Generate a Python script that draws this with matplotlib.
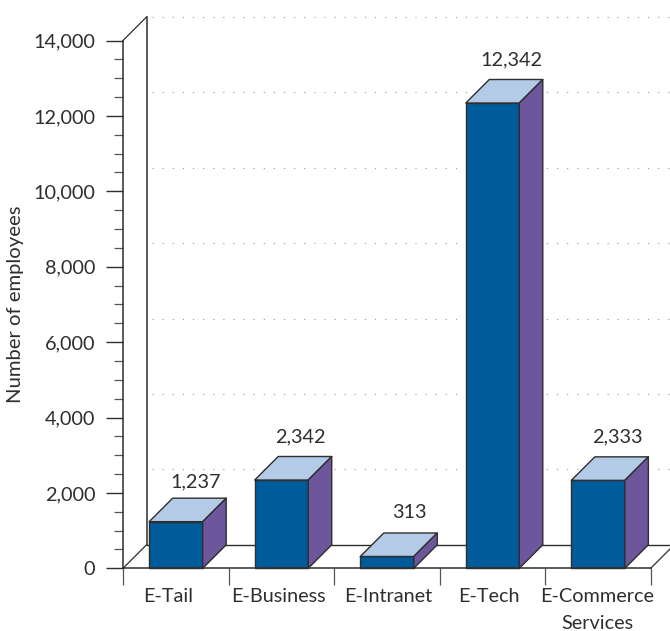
import matplotlib
matplotlib.use("Agg")
import matplotlib.pyplot as plt
from matplotlib.patches import Polygon
from matplotlib.ticker import MultipleLocator, FuncFormatter

categories = ["E-Tail", "E-Business", "E-Intranet", "E-Tech", "E-Commerce\nServices"]
employees = [1237, 2342, 313, 12342, 2333]
label_text = ["1,237", "2,342", "313", "12,342", "2,333"]

W, H = 670, 631
plt.rcParams["font.family"] = ["Lato", "DejaVu Sans"]
INK = "#2e2e2e"
FRONT, TOP, SIDE = "#005b9a", "#b3cbe6", "#6e569c"
GRID = "#a0a0a0"
FS = 14.3

fig = plt.figure(figsize=(W / 100, H / 100), dpi=100)
left, right, top, bottom = 123, 650.7, 40.5, 568.3
ax = fig.add_axes([left / W, 1 - bottom / H, (right - left) / W, (bottom - top) / H])
ax.set_xlim(0, 5)
ax.set_ylim(0, 14000)
ax.patch.set_visible(False)

# Oblique depth of the pseudo-3D box, in data units
dx = 23.5 / ((right - left) / 5)
dy = 23.5 / ((bottom - top) / 14000)
bar_w = 0.507
bar_pad = 0.248

# Back wall, floor and dotted gridlines
x_end = 5.4
for v in range(0, 14001, 2000):
    if v:
        ax.plot([dx + 0.05, x_end], [v + dy, v + dy], color=GRID, lw=0.8,
                ls=(0, (1.1, 8)), clip_on=False, zorder=1)
ax.plot([dx, dx], [dy, 14000 + dy], color=INK, lw=1.1, clip_on=False, zorder=2)
ax.plot([0, dx], [14000, 14000 + dy], color=INK, lw=0.9, clip_on=False, zorder=2)
ax.plot([0, dx], [0, dy], color=INK, lw=0.9, clip_on=False, zorder=2)
ax.plot([dx, x_end], [dy, dy], color=INK, lw=1.0, clip_on=False, zorder=2)
ax.plot([5, 5 + dx], [0, dy], color=INK, lw=0.9, clip_on=False, zorder=2)
ax.fill([5, 5 + dx, x_end, x_end], [0, dy, dy, 0], color="white", zorder=1.5, clip_on=False)

# Bars: front, top and side faces plus the value above each
value_lift_px = [16, 20, 20, 20, 20]
value_shift_px = [-31, -31, -28, -31, -31]
for i, v in enumerate(employees):
    x0, x1 = i + bar_pad, i + bar_pad + bar_w
    faces = [
        ([(x0, 0), (x1, 0), (x1, v), (x0, v)], FRONT),
        ([(x0, v), (x1, v), (x1 + dx, v + dy), (x0 + dx, v + dy)], TOP),
        ([(x1, 0), (x1 + dx, dy), (x1 + dx, v + dy), (x1, v)], SIDE),
    ]
    for pts, col in faces:
        ax.add_patch(Polygon(pts, closed=True, facecolor=col, edgecolor=INK, lw=1.0,
                             joinstyle="round", zorder=3, clip_on=False))
    ax.annotate(label_text[i], xy=(x1 + dx, v + dy),
                xytext=(value_shift_px[i] * 0.72, value_lift_px[i] * 0.72),
                textcoords="offset points", ha="center", va="center", fontsize=FS,
                color=INK, zorder=5)

# Axes and ticks
for s in ("top", "right"):
    ax.spines[s].set_visible(False)
for s in ("left", "bottom"):
    ax.spines[s].set_color(INK)
    ax.spines[s].set_linewidth(1.1)
    ax.spines[s].set_zorder(4)
ax.yaxis.set_major_locator(MultipleLocator(2000))
ax.yaxis.set_minor_locator(MultipleLocator(500))
ax.yaxis.set_major_formatter(FuncFormatter(lambda v, _: f"{int(v):,}"))
ax.tick_params(axis="y", which="major", length=12, width=1.0, color=INK, pad=8,
               labelsize=FS, labelcolor=INK)
ax.tick_params(axis="y", which="minor", length=6.5, width=0.9, color="#555555")
ax.set_xticks(range(6))
ax.set_xticklabels([])
ax.tick_params(axis="x", which="major", length=12, width=0.9, color="#555555")

# Category labels sit under each cell with slight hand-set nudges
nudge_px = [-8, -3, 1, -4, -1]
for i, name in enumerate(categories):
    ax.annotate(name, xy=(i + 0.5, 0), xytext=(nudge_px[i] * 0.72, -20 * 0.72),
                textcoords="offset points", ha="center", va="top", fontsize=FS,
                color=INK, linespacing=1.68, annotation_clip=False)

fig.text(16 / W, 1 - 304 / H, "Number of employees", rotation=90, ha="center", va="center",
         fontsize=FS + 0.3, color=INK)

fig.savefig("out.png", dpi=100)
